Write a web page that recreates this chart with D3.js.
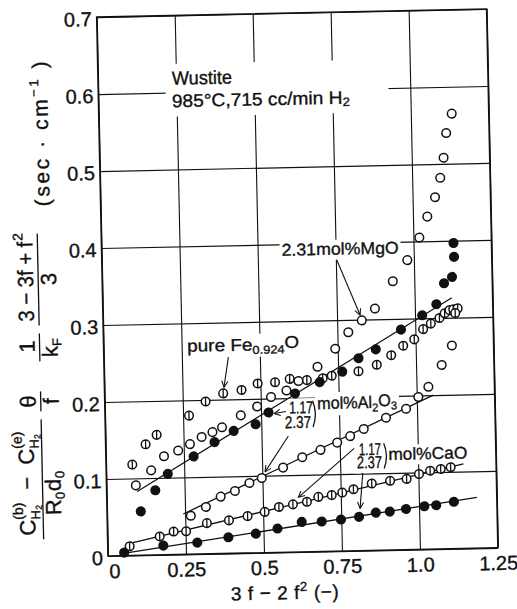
<!DOCTYPE html>
<html><head><meta charset="utf-8">
<script src="https://cdn.jsdelivr.net/npm/d3@7"></script>
<style>
body{margin:0;background:#fff}
svg{display:block}
text{font-family:"Liberation Sans",Arial,sans-serif;fill:#111;stroke:#111;stroke-width:0.35px}
</style>
</head><body>
<svg id="c" width="517" height="609"></svg>
<script>
// ---------------- data ----------------
const xTicks=[0,0.25,0.5,0.75,1.0,1.25];
const xTickLabels=["0","0.25","0.5","0.75","1.0","1.25"];
const yTicks=[0,0.1,0.2,0.3,0.4,0.5,0.6,0.7];
const yTickLabels=["0","0.1","0.2","0.3","0.4","0.5","0.6","0.7"];

// pure Fe0.924O (circle with vertical bar)
const pureFeX=[0.084,0.128,0.164,0.269,0.323,0.380,0.439,0.491,0.547,0.594,0.649,0.700,0.729,0.815,0.874,0.921,0.960,0.996,1.025,1.050,1.078,1.095,1.111,1.123,1.137,1.129];
const pureFeY=[0.118,0.144,0.156,0.180,0.198,0.208,0.212,0.220,0.221,0.225,0.223,0.225,0.228,0.233,0.241,0.253,0.265,0.273,0.286,0.293,0.300,0.306,0.310,0.311,0.312,0.306];

// 2.31 mol% MgO (open circles)
const mgoX=[0.094,0.144,0.186,0.232,0.270,0.308,0.343,0.374,0.435,0.488,0.533,0.583,0.622,0.684,0.742,0.785,0.829,0.872,0.931,0.979,1.019,1.046,1.072,1.090,1.102,1.112,1.131];
const mgoY=[0.091,0.110,0.128,0.135,0.143,0.152,0.158,0.164,0.179,0.190,0.202,0.210,0.222,0.240,0.263,0.284,0.299,0.314,0.349,0.376,0.405,0.432,0.457,0.482,0.508,0.540,0.565];

// 1.17 mol% Al2O3 (filled circles)
const al117X=[0.108,0.156,0.197,0.281,0.349,0.411,0.482,0.524,0.610,0.690,0.763,0.816,0.872,0.954,1.023,1.069,1.095,1.121,1.129,1.128];
const al117Y=[0.057,0.084,0.105,0.127,0.145,0.159,0.167,0.182,0.206,0.220,0.233,0.250,0.261,0.286,0.304,0.318,0.345,0.353,0.379,0.397];
const al117LineX=[0.098,1.119], al117LineY=[0.083,0.326];

// 2.37 mol% Al2O3 (open circles)
const al237X=[0.268,0.317,0.365,0.411,0.458,0.498,0.567,0.629,0.688,0.742,0.784,0.828,0.900,0.965,1.005,1.038,1.082,1.116];
const al237Y=[0.050,0.061,0.074,0.081,0.091,0.097,0.110,0.123,0.132,0.141,0.149,0.158,0.172,0.183,0.198,0.211,0.239,0.264];
const al237LineX=[0.244,1.053], al237LineY=[0.0525,0.200];

// 1.17 mol% CaO (circle with vertical bar)
const ca117X=[0.070,0.167,0.212,0.252,0.319,0.390,0.450,0.505,0.551,0.596,0.641,0.678,0.721,0.755,0.791,0.850,0.909,0.962,1.002,1.038,1.072,1.104];
const ca117Y=[0.012,0.024,0.030,0.030,0.040,0.043,0.048,0.053,0.059,0.062,0.065,0.071,0.073,0.076,0.080,0.087,0.090,0.092,0.098,0.102,0.104,0.106];
const ca117LineX=[0.061,1.145], ca117LineY=[0.015,0.110];

// 2.37 mol% CaO (filled circles)
const ca237X=[0.052,0.178,0.287,0.387,0.475,0.545,0.623,0.687,0.749,0.807,0.861,0.906,0.958,1.017,1.055,1.112];
const ca237Y=[0.004,0.012,0.015,0.021,0.025,0.031,0.039,0.039,0.041,0.044,0.049,0.050,0.053,0.056,0.057,0.061];
const ca237LineX=[0.05,1.186], ca237LineY=[0.003,0.066];

// ---------------- layout ----------------
const X0=108,X1=498,Y0=556,Y1=17;
const FONT='"Liberation Sans", Arial, sans-serif';
const INK="#111";
const svg=d3.select("#c");
svg.append("rect").attr("width",517).attr("height",609).attr("fill","#fff");
const x=d3.scaleLinear().domain([0,1.25]).range([X0,X1]);
const y=d3.scaleLinear().domain([0,0.7]).range([Y0,Y1]);
const g=svg.append("g").attr("transform",`rotate(-1.2,${X0},${Y0})`);

// grid + tick labels via axes
const gx=g.append("g").attr("transform",`translate(0,${Y0})`)
  .call(d3.axisBottom(x).tickValues(xTicks).tickFormat((d,i)=>xTickLabels[i]).tickSize(-(Y0-Y1)).tickPadding(8));
gx.select(".domain").remove();
gx.selectAll("line").attr("stroke",INK).attr("stroke-width",1.1);
gx.selectAll("text").attr("font-size",20).attr("font-family",FONT).attr("fill",INK);
gx.selectAll(".tick text").filter((d,i)=>i===0).attr("dx",6);

const gy=g.append("g").attr("transform",`translate(${X0},0)`)
  .call(d3.axisLeft(y).tickValues(yTicks).tickFormat((d,i)=>yTickLabels[i]).tickSize(-(X1-X0)).tickPadding(5));
gy.select(".domain").remove();
gy.selectAll("line").attr("stroke",INK).attr("stroke-width",1.1);
gy.selectAll("text").attr("font-size",20).attr("font-family",FONT).attr("fill",INK).attr("dy","0.42em");

// white boxes (under text, to break the grid) then annotation layer
const boxes=g.append("g");
const ann=g.append("g");

// frame
g.append("rect").attr("x",X0).attr("y",Y1).attr("width",X1-X0).attr("height",Y0-Y1)
  .attr("fill","none").attr("stroke",INK).attr("stroke-width",1.6);

// regression lines
const line=d3.line().x(d=>x(d[0])).y(d=>y(d[1]));
const lines=[[al117LineX,al117LineY],[al237LineX,al237LineY],[ca117LineX,ca117LineY],[ca237LineX,ca237LineY]];
const gl=g.append("g");
lines.forEach(([lx,ly])=>{
  gl.append("path").attr("d",line(lx.map((v,i)=>[v,ly[i]]))).attr("fill","none").attr("stroke",INK).attr("stroke-width",1.3);
});

// markers
const R=4.3;
function pts(xs,ys){return xs.map((v,i)=>[v,ys[i]]);}
function drawSeries(xs,ys,type){
  const s=g.append("g").selectAll("g").data(pts(xs,ys)).join("g")
    .attr("transform",d=>`translate(${x(d[0])},${y(d[1])})`);
  s.append("circle").attr("r",R)
    .attr("fill",type==="filled"?INK:"#fff").attr("stroke",INK).attr("stroke-width",1.5);
  if(type==="bar") s.append("line").attr("x1",0).attr("x2",0).attr("y1",-R).attr("y2",R).attr("stroke",INK).attr("stroke-width",1.3);
}
drawSeries(pureFeX,pureFeY,"bar");
drawSeries(mgoX,mgoY,"open");
drawSeries(al237X,al237Y,"open");
drawSeries(al117X,al117Y,"filled");
drawSeries(ca117X,ca117Y,"bar");
drawSeries(ca237X,ca237Y,"filled");

// ---------------- annotations ----------------
function label(xv,yv,parts,opts={}){
  const t=ann.append("text").attr("x",x(xv)).attr("y",y(yv)).attr("font-size",opts.size||17)
    .attr("font-family",FONT);
  parts.forEach(p=>{
    const ts=t.append("tspan").text(p.t);
    if(p.sub){ts.attr("font-size",(opts.size||17)*0.68).attr("dy",p.sub);}
    if(p.back){ts.attr("dy",p.back);}
  });
  if(opts.len) t.attr("textLength",opts.len).attr("lengthAdjust","spacingAndGlyphs");
  return t;
}
function whiteBox(t,pad){
  const b=t.node().getBBox();
  boxes.append("rect").attr("x",b.x-pad).attr("y",b.y-pad+2).attr("width",b.width+2*pad).attr("height",b.height+2*pad-3).attr("fill","#fff");
}
const arrowDefs=svg.append("defs");
arrowDefs.append("marker").attr("id","ah").attr("viewBox","0 0 10 10").attr("refX",9).attr("refY",5)
  .attr("markerWidth",7).attr("markerHeight",7).attr("orient","auto")
  .append("path").attr("d","M1,1 L9,5 L1,9").attr("fill","none").attr("stroke",INK).attr("stroke-width",1.4);
function arrow(x1,y1,x2,y2){
  ann.append("line").attr("x1",x(x1)).attr("y1",y(y1)).attr("x2",x(x2)).attr("y2",y(y2))
    .attr("stroke",INK).attr("stroke-width",1.1).attr("marker-end","url(#ah)");
}

const t1=label(0.237,0.610,[{t:"Wustite"}],{size:19,len:60});
const t2=label(0.235,0.581,[{t:"985°C,715 cc/min H"},{t:"2",sub:"0.2em"}],{size:18,len:178});
const t3=label(0.577,0.385,[{t:"2.31mol%MgO"}],{size:17,len:117});
arrow(0.753,0.378,0.824,0.306);
const t4=label(0.268,0.263,[{t:"pure Fe"},{t:"0.924",sub:"0.3em"},{t:"O",back:"-0.3em"}],{size:17,len:112});
arrow(0.399,0.255,0.383,0.216);
const t5=label(0.590,0.180,[{t:"1.17"}],{size:17,len:24});
const t6=label(0.576,0.161,[{t:"2.37"}],{size:17,len:26});
const t7=label(0.680,0.185,[{t:"mol%Al"},{t:"2",sub:"0.3em"},{t:"O",back:"-0.3em"},{t:"3",sub:"0.3em"}],{size:17,len:80});
arrow(0.580,0.1828,0.542,0.1805);
arrow(0.586,0.151,0.509,0.105);
const t8=label(0.811,0.124,[{t:"1.17"}],{size:17,len:22});
const t9=label(0.804,0.107,[{t:"2.37"}],{size:17,len:25});
const t10=label(0.905,0.117,[{t:"mol%CaO"}],{size:17,len:79});
arrow(0.796,0.133,0.614,0.071);
arrow(0.822,0.101,0.811,0.055);
function bracket(xv,yTop,yBot){
  const xa=x(xv), ya=y(yTop), yb=y(yBot);
  ann.append("path").attr("d",`M${xa},${ya} Q${xa+5},${(ya+yb)/2} ${xa},${yb}`)
    .attr("fill","none").attr("stroke",INK).attr("stroke-width",1.3);
}
bracket(0.666,0.196,0.162);
bracket(0.891,0.139,0.106);

[t3,t4,t5,t6,t7,t8,t9,t10].forEach(t=>whiteBox(t,2));
// title block: wider gap in the grid around it
(function(){
  const b1=t1.node().getBBox(), b2=t2.node().getBBox();
  const xa=Math.min(b1.x,b2.x)-6, ya=b1.y-4, yb=b2.y+b2.height+4;
  boxes.append("rect").attr("x",xa).attr("y",ya).attr("width",x(0.93)-xa).attr("height",yb-ya).attr("fill","#fff");
})();

// ---------------- y-axis label (vertical formula) ----------------
const YL=g.append("g").attr("transform",`translate(44,${Y0}) rotate(-90)`);
function yt(p,q,s,size,extra){
  const t=YL.append("text").attr("x",p).attr("y",q).attr("font-size",size).text(s);
  if(extra) extra(t);
  return t;
}
function bar(p1,p2){YL.append("line").attr("x1",p1).attr("x2",p2).attr("y1",0).attr("y2",0).attr("stroke",INK).attr("stroke-width",1.3);}
// fraction 1
bar(18,138);
yt(22,-8,"C",22); yt(38,-20,"(b)",14); yt(38,-3,"H",13); yt(47.5,-1,"2",9);
yt(68,-8,"−",22);
yt(93,-8,"C",22); yt(109,-20,"(e)",14); yt(109,-3,"H",13); yt(118.5,-1,"2",9);
yt(42,18,"R",22); yt(58,22,"0",13); yt(66,18,"d",22); yt(79,22,"0",13);
// theta / f
bar(146,166); yt(150,-5,"θ",22); yt(153,18,"f",22);
// 1 / kF
bar(196,224); yt(205,-5,"1",22); yt(200,18,"k",22); yt(211,22,"F",13);
// (3-3f+f^2)/3
bar(232,324);
yt(236,-5,"3 − 3f + f",22,t=>t.attr("textLength",80).attr("lengthAdjust","spacingAndGlyphs"));
yt(317,-15,"2",14);
yt(272,18,"3",22);
// units
const u=YL.append("text").attr("x",351).attr("y",13).attr("font-size",21);
u.append("tspan").text("(sec · cm");
u.append("tspan").attr("font-size",13).attr("dy",-9).text("−1");
u.append("tspan").attr("dy",9).text(" )");
u.attr("textLength",145).attr("lengthAdjust","spacing");

// ---------------- x-axis title ----------------
const xt=g.append("text").attr("x",x(0.564)).attr("y",Y0+47).attr("text-anchor","middle").attr("font-size",19);
xt.append("tspan").text("3 f − 2 f");
xt.append("tspan").attr("font-size",13).attr("dy",-8).text("2");
xt.append("tspan").attr("dy",8).text("  (−)");
xt.attr("textLength",108).attr("lengthAdjust","spacing");
</script>
</body></html>
